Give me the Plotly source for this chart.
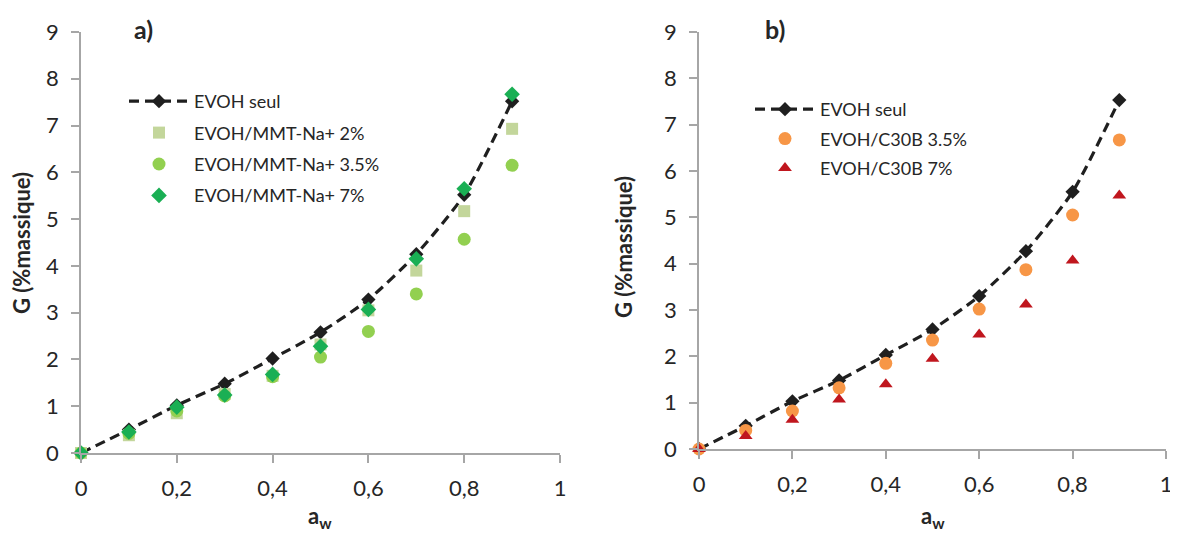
import plotly.graph_objects as go

aw = [0, 0.1, 0.2, 0.3, 0.4, 0.5, 0.6, 0.7, 0.8, 0.9]

# Panel a
evoh_a = [0, 0.50, 1.02, 1.48, 2.02, 2.58, 3.28, 4.25, 5.52, 7.52]
mmt_2 = [0, 0.38, 0.85, 1.26, 1.65, 2.32, 3.05, 3.90, 5.17, 6.93]
mmt_35 = [0, 0.42, 0.90, 1.22, 1.63, 2.05, 2.60, 3.40, 4.57, 6.15]
mmt_7 = [0, 0.45, 0.98, 1.24, 1.68, 2.28, 3.07, 4.15, 5.65, 7.67]

# Panel b
evoh_b = [0, 0.50, 1.03, 1.48, 2.03, 2.58, 3.30, 4.27, 5.55, 7.53]
c30b_35 = [0, 0.40, 0.82, 1.32, 1.85, 2.35, 3.02, 3.87, 5.05, 6.67]
c30b_7 = [0, 0.28, 0.63, 1.07, 1.40, 1.95, 2.47, 3.12, 4.07, 5.47]

x_ticks = [0, 0.2, 0.4, 0.6, 0.8, 1]
x_tick_labels = ["0", "0,2", "0,4", "0,6", "0,8", "1"]
y_ticks = list(range(10))

FONT = "Lato, Open Sans, sans-serif"
TXT = "#262626"
AXC = "#a6a6a6"

fig = go.Figure()

def add(x, y, name, xa, ya, leg, mode, color, symbol, size, group, dash=None):
    kw = dict(x=x, y=y, name=name, xaxis=xa, yaxis=ya, legend=leg, mode=mode,
              legendgroup=group, cliponaxis=False,
              marker=dict(color=color, symbol=symbol, size=size, line=dict(width=0)))
    if dash:
        kw["line"] = dict(color=color, dash=dash, width=3.2, shape="spline", smoothing=0.6)
    fig.add_trace(go.Scatter(**kw))

add(aw, evoh_a, "EVOH seul", "x", "y", "legend", "lines+markers", "#1f1f1f", "diamond", 11, "a1", dash="10px,6px")
add(aw, mmt_2, "EVOH/MMT-Na+ 2%", "x", "y", "legend", "markers", "#c3d69b", "square", 12, "a2")
add(aw, mmt_35, "EVOH/MMT-Na+ 3.5%", "x", "y", "legend", "markers", "#92d050", "circle", 13, "a3")
add(aw, mmt_7, "EVOH/MMT-Na+ 7%", "x", "y", "legend", "markers", "#1aaf54", "diamond", 12, "a4")

add(aw, evoh_b, "EVOH seul", "x2", "y2", "legend2", "lines+markers", "#1f1f1f", "diamond", 11, "b1", dash="10px,6px")
add(aw, c30b_35, "EVOH/C30B 3.5%", "x2", "y2", "legend2", "markers", "#f79646", "circle", 13, "b2")
add(aw, c30b_7, "EVOH/C30B 7%", "x2", "y2", "legend2", "markers", "#c0161e", "triangle-up", 12, "b3")

# page body adds an 8 px margin; figure coords = reference coords - 8
W, H = 1168, 527

def px(v):
    return v / W

def py(v):
    return 1 - v / H

def xaxis(dom, anchor):
    return dict(domain=dom, range=[0, 1], anchor=anchor, tickvals=x_ticks, ticktext=x_tick_labels,
                showline=True, linecolor=AXC, linewidth=1.6, ticks="outside", ticklen=8,
                tickcolor=AXC, tickwidth=1.6, showgrid=False, zeroline=False, automargin=False,
                ticklabelstandoff=7,
                tickfont=dict(family=FONT, size=22, color=TXT))

def yaxis(dom, anchor):
    return dict(domain=dom, range=[0, 9], anchor=anchor, tickvals=y_ticks,
                showline=True, linecolor=AXC, linewidth=1.6, ticks="outside", ticklen=8,
                tickcolor=AXC, tickwidth=1.6, showgrid=False, zeroline=False, automargin=False,
                ticklabelstandoff=8,
                tickfont=dict(family=FONT, size=22, color=TXT))

legfont = dict(family=FONT, size=18, color=TXT)
titlefont = dict(family=FONT, size=22, color=TXT)

def note(text, x, y, font, angle=0, yanchor="middle"):
    return dict(text=text, x=px(x), y=py(y), xref="paper", yref="paper",
                xanchor="center", yanchor=yanchor, showarrow=False,
                textangle=angle, font=font)

fig.update_layout(
    width=W, height=H,
    margin=dict(l=0, r=0, t=0, b=0, autoexpand=False),
    paper_bgcolor="white", plot_bgcolor="white",
    showlegend=True,
    xaxis=xaxis([px(73), px(552)], "y"),
    yaxis=yaxis([py(445), py(24)], "x"),
    xaxis2=xaxis([px(691), px(1158)], "y2"),
    yaxis2=yaxis([py(441), py(24)], "x2"),
    legend=dict(x=px(116), y=py(75), xanchor="left", yanchor="top", font=legfont,
                bgcolor="rgba(0,0,0,0)", tracegroupgap=5, itemwidth=60),
    legend2=dict(x=px(742), y=py(83), xanchor="left", yanchor="top", font=legfont,
                 bgcolor="rgba(0,0,0,0)", tracegroupgap=3, itemwidth=60),
    annotations=[
        note("<b>a)</b>", 135, 21, dict(family=FONT, size=25, color=TXT)),
        note("<b>b)</b>", 767, 21, dict(family=FONT, size=25, color=TXT)),
        note("<b>G (%massique)</b>", 13, 235, titlefont, -90),
        note("<b>G (%massique)</b>", 615, 239, titlefont, -90),
        note("<b>a<sub>w</sub></b>", 312, 526, titlefont, yanchor="bottom"),
        note("<b>a<sub>w</sub></b>", 925, 526, titlefont, yanchor="bottom"),
    ],
)

fig.write_html("out.html")
